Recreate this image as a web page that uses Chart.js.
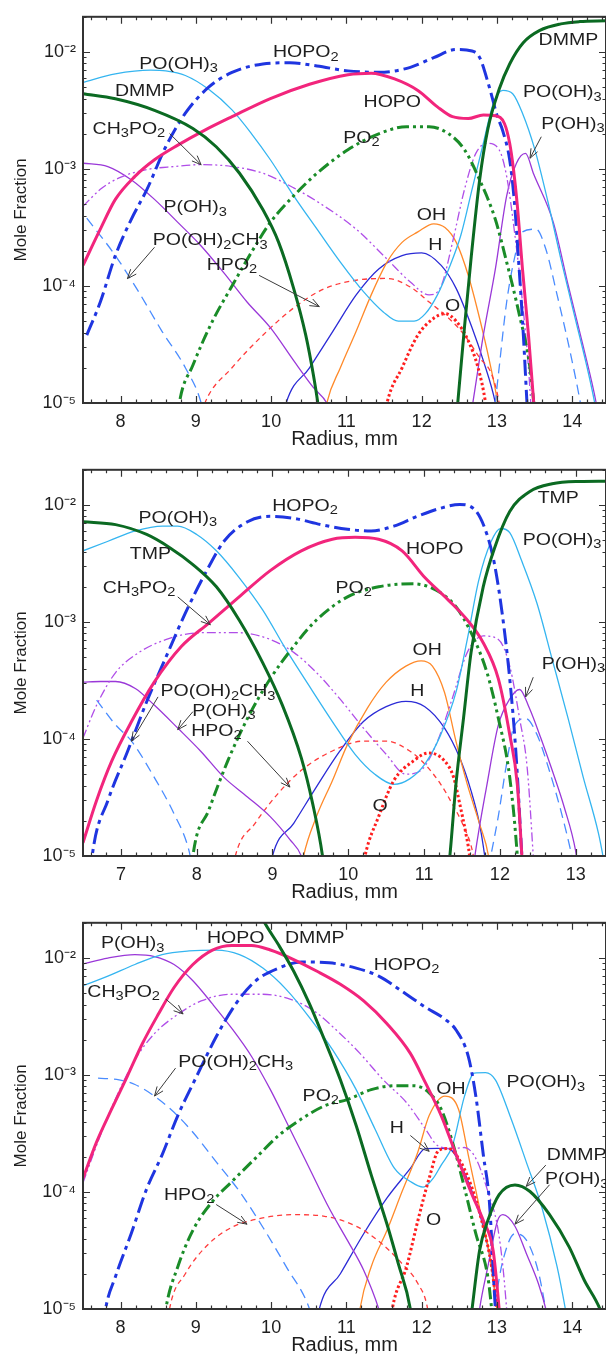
<!DOCTYPE html>
<html><head><meta charset="utf-8">
<script src="https://cdn.jsdelivr.net/npm/chart.js@4.4.1/dist/chart.umd.min.js"></script>
<style>
html,body{margin:0;padding:0;background:#fff;}
body{width:606px;height:1355px;overflow:hidden;position:relative;}
canvas{position:absolute;left:0;}
</style></head>
<body>
<canvas id="c1" width="606" height="452" style="top:-1px"></canvas>
<canvas id="c2" width="606" height="452" style="top:452px"></canvas>
<canvas id="c3" width="606" height="452" style="top:905px"></canvas>
<script>
// ---------------- DATA (radius mm, mole fraction) ----------------
// Panel 1 (DMMP flame)
const p1_DMMP = [[7.5,4.39e-3],[7.93,3.98e-3],[8.45,3.17e-3],[8.96,2.22e-3],[9.27,1.55e-3],[9.58,9.2e-4],[9.89,4.5e-4],[10.10,2.36e-4],[10.30,9.5e-5],[10.46,3.8e-5],[10.56,1.76e-5],[10.62,1e-5],[10.66,6e-6],[11.5,null],[12.45,6e-6],[12.48,1e-5],[12.57,4.5e-5],[12.66,1.8e-4],[12.77,8e-4],[12.88,2.2e-3],[13.03,4.8e-3],[13.17,7.9e-3],[13.35,1.2e-2],[13.57,1.53e-2],[13.85,1.74e-2],[14.1,1.82e-2],[14.45,1.85e-2]];
const p1_POOH3 = [[7.5,5.5e-3],[7.93,6.5e-3],[8.40,7.0e-3],[8.60,6.9e-3],[8.86,6.3e-3],[9.17,4.8e-3],[9.48,3.2e-3],[9.74,2.0e-3],[9.99,1.2e-3],[10.30,5.9e-4],[10.61,3.06e-4],[10.92,1.6e-4],[11.23,8.9e-5],[11.49,6.0e-5],[11.69,5.0e-5],[11.90,5.0e-5],[12.05,5.8e-5],[12.21,8.4e-5],[12.36,1.4e-4],[12.52,2.7e-4],[12.67,6.7e-4],[12.82,1.66e-3],[12.95,3.6e-3],[13.08,4.7e-3],[13.21,4.4e-3],[13.34,3.0e-3],[13.50,1.5e-3],[13.68,5.2e-4],[13.86,1.6e-4],[14.05,5e-5],[14.2,2e-5],[14.3,1e-5],[14.34,7e-6]];
const p1_HOPO = [[7.5,1.5e-4],[7.73,3.06e-4],[7.93,5.5e-4],[8.19,8.65e-4],[8.45,1.2e-3],[8.76,1.6e-3],[9.12,2.15e-3],[9.48,2.8e-3],[9.99,4.0e-3],[10.51,5.3e-3],[11.02,6.4e-3],[11.33,6.6e-3],[11.64,5.9e-3],[11.95,4.7e-3],[12.21,3.4e-3],[12.41,2.8e-3],[12.62,2.7e-3],[12.82,2.9e-3],[12.98,2.85e-3],[13.10,2.45e-3],[13.17,1.66e-3],[13.22,1.0e-3],[13.27,5.0e-4],[13.34,1.4e-4],[13.42,3.8e-5],[13.49,1e-5],[13.52,6e-6]];
const p1_HOPO2 = [[7.55,3.8e-5],[7.73,7.3e-5],[7.93,1.82e-4],[8.14,3.7e-4],[8.35,6.7e-4],[8.60,1.55e-3],[8.86,3.0e-3],[9.17,5.0e-3],[9.48,6.7e-3],[9.89,7.9e-3],[10.25,8.1e-3],[10.61,7.6e-3],[11.02,6.9e-3],[11.43,6.7e-3],[11.85,7.4e-3],[12.16,8.95e-3],[12.46,1.05e-2],[12.67,1.02e-2],[12.77,9.0e-3],[12.90,5e-3],[13.0,2.9e-3],[13.08,2.1e-3],[13.17,1.2e-3],[13.23,5.5e-4],[13.29,1.6e-4],[13.35,4e-5],[13.40,1e-5],[13.42,6e-6]];
const p1_PO2 = [[8.74,6e-6],[8.78,1e-5],[8.96,2.1e-5],[9.22,5e-5],[9.48,1.0e-4],[9.74,1.95e-4],[9.99,3.5e-4],[10.30,5.9e-4],[10.61,9.2e-4],[11.02,1.46e-3],[11.43,2.0e-3],[11.80,2.3e-3],[12.10,2.3e-3],[12.36,2.0e-3],[12.57,1.46e-3],[12.77,8.1e-4],[12.98,3.7e-4],[13.13,1.6e-4],[13.29,6e-5],[13.44,2e-5],[13.49,1e-5],[13.52,6e-6]];
const p1_CH3PO2 = [[7.5,4.8e-4],[7.73,6.7e-4],[7.98,8.4e-4],[8.35,9.9e-4],[8.71,1.05e-3],[9.07,1.09e-3],[9.48,1.05e-3],[9.89,9.2e-4],[10.30,6.9e-4],[10.71,4.8e-4],[11.13,3.06e-4],[11.54,1.7e-4],[11.85,1.08e-4],[12.10,8.4e-5],[12.26,1.0e-4],[12.41,2.36e-4],[12.57,6.7e-4],[12.72,1.36e-3],[12.88,1.66e-3],[13.03,1.46e-3],[13.13,8.65e-4],[13.24,2.7e-4],[13.34,7.3e-5],[13.42,2e-5],[13.45,1e-5],[13.47,6e-6]];
const p1_POH3 = [[7.5,1.12e-3],[7.83,1.05e-3],[8.14,8.1e-4],[8.45,5.5e-4],[8.76,3.5e-4],[9.07,2.2e-4],[9.37,1.3e-4],[9.68,7.3e-5],[9.99,4.4e-5],[10.30,2.3e-5],[10.56,1.36e-5],[10.74,1e-5],[10.8,8e-6],[11.8,null],[12.64,7e-6],[12.68,1e-5],[12.82,3.8e-5],[12.98,1.4e-4],[13.13,5.9e-4],[13.26,1.12e-3],[13.38,1.36e-3],[13.49,9e-4],[13.75,3.5e-4],[13.95,1.0e-4],[14.15,3e-5],[14.32,1e-5],[14.36,7e-6]];
const p1_POOH2CH3 = [[7.55,3.8e-4],[7.93,1.82e-4],[8.24,8.9e-5],[8.55,4.1e-5],[8.86,2e-5],[9.07,1e-5],[9.12,7e-6],[12.0,null],[12.96,7e-6],[12.98,1e-5],[13.03,2e-5],[13.13,7.3e-5],[13.24,1.8e-4],[13.34,2.9e-4],[13.52,3.06e-4],[13.65,2.07e-4],[13.80,8.4e-5],[13.96,3e-5],[14.11,1e-5],[14.15,7e-6]];
const p1_HPO2 = [[9.05,7e-6],[9.12,1e-5],[9.48,2e-5],[9.89,3.8e-5],[10.30,6.5e-5],[10.71,9.5e-5],[11.13,1.12e-4],[11.54,1.16e-4],[11.85,9.8e-5],[12.10,7.3e-5],[12.36,5.3e-5],[12.57,3.8e-5],[12.77,2.44e-5],[12.93,1.76e-5],[13.03,1e-5],[13.06,7e-6]];
const p1_OH = [[10.70,7e-6],[10.74,1e-5],[10.92,2e-5],[11.13,4.1e-5],[11.33,8.4e-5],[11.54,1.6e-4],[11.74,2.36e-4],[11.95,2.9e-4],[12.16,3.4e-4],[12.31,3.16e-4],[12.46,2.36e-4],[12.62,1.23e-4],[12.77,5.3e-5],[12.90,2.3e-5],[13.01,1e-5],[13.04,7e-6]];
const p1_H = [[10.15,7e-6],[10.20,1e-5],[10.51,2e-5],[10.82,4.1e-5],[11.13,8.4e-5],[11.43,1.4e-4],[11.74,1.82e-4],[12.0,1.92e-4],[12.26,1.5e-4],[12.46,9.5e-5],[12.67,4.4e-5],[12.82,2.3e-5],[12.98,1e-5],[13.02,7e-6]];
const p1_O = [[11.50,7e-6],[11.54,1e-5],[11.74,2e-5],[11.95,3.8e-5],[12.16,5.3e-5],[12.31,5.8e-5],[12.46,5.0e-5],[12.62,3.4e-5],[12.75,2e-5],[12.85,1e-5],[12.88,7e-6]];

// Panel 2 (TMP flame)
const p2_TMP = [[6.5,7.2e-3],[6.93,6.8e-3],[7.34,5.6e-3],[7.65,4.3e-3],[7.95,3.1e-3],[8.26,2.0e-3],[8.56,1.04e-3],[8.87,4.5e-4],[9.13,1.95e-4],[9.38,6.9e-5],[9.53,2.8e-5],[9.66,1e-5],[9.70,6e-6],[10.5,null],[11.30,6e-6],[11.34,1e-5],[11.42,4.1e-5],[11.52,1.5e-4],[11.62,5.5e-4],[11.78,2.0e-3],[11.93,4.3e-3],[12.13,8.8e-3],[12.39,1.3e-2],[12.69,1.52e-2],[13.05,1.59e-2],[13.40,1.6e-2]];
const p2_POOH3 = [[6.5,4.06e-3],[6.83,4.9e-3],[7.19,6.0e-3],[7.55,6.6e-3],[7.75,6.6e-3],[8.0,5.6e-3],[8.26,4.06e-3],[8.56,2.4e-3],[8.87,1.27e-3],[9.18,5.8e-4],[9.48,2.87e-4],[9.79,1.41e-4],[10.09,7.4e-5],[10.35,5.0e-5],[10.60,4.1e-5],[10.81,4.56e-5],[11.01,6.1e-5],[11.22,1.09e-4],[11.42,2.5e-4],[11.57,7.1e-4],[11.72,2.26e-3],[11.88,4.8e-3],[12.01,6.3e-3],[12.13,5.8e-3],[12.29,3.3e-3],[12.49,1.44e-3],[12.69,4.8e-4],[12.90,1.5e-4],[13.10,4.7e-5],[13.30,1.57e-5],[13.36,1e-5],[13.40,7e-6]];
const p2_HOPO = [[6.5,1.3e-5],[6.68,3.0e-5],[6.88,6.5e-5],[7.14,1.41e-4],[7.44,3.06e-4],[7.80,6.2e-4],[8.16,9.8e-4],[8.56,1.64e-3],[8.97,2.75e-3],[9.38,4.06e-3],[9.79,5.1e-3],[10.09,5.3e-3],[10.40,5.1e-3],[10.71,4.06e-3],[11.01,2.4e-3],[11.32,1.54e-3],[11.57,1.04e-3],[11.78,6.65e-4],[11.98,3.27e-4],[12.13,1.09e-4],[12.23,4.1e-5],[12.29,1e-5],[12.31,6e-6]];
const p2_HOPO2 = [[6.6,7e-6],[6.63,1.1e-5],[6.83,3e-5],[7.09,7.9e-5],[7.34,2.08e-4],[7.60,5.1e-4],[7.85,1.19e-3],[8.11,2.58e-3],[8.36,4.9e-3],[8.67,7.2e-3],[8.97,8.0e-3],[9.28,7.7e-3],[9.64,6.8e-3],[9.99,6.2e-3],[10.30,6.0e-3],[10.60,6.6e-3],[10.91,8.0e-3],[11.22,9.4e-3],[11.47,1.01e-2],[11.67,9.1e-3],[11.83,5.6e-3],[11.93,3.1e-3],[12.03,1.19e-3],[12.13,3.27e-4],[12.21,7.9e-5],[12.29,1e-5],[12.31,6e-6]];
const p2_PO2 = [[7.92,6e-6],[7.95,1e-5],[8.16,2.47e-5],[8.41,6.5e-5],[8.67,1.5e-4],[8.97,3.27e-4],[9.28,6.2e-4],[9.58,1.04e-3],[9.99,1.64e-3],[10.40,2.0e-3],[10.86,2.12e-3],[11.16,1.87e-3],[11.42,1.35e-3],[11.62,8.1e-4],[11.83,3.7e-4],[11.98,1.5e-4],[12.13,4.7e-5],[12.23,1e-5],[12.25,6e-6]];
const p2_CH3PO2 = [[6.5,1.02e-4],[6.68,1.95e-4],[6.93,3.7e-4],[7.24,5.5e-4],[7.60,7.1e-4],[8.05,8.1e-4],[8.56,8.1e-4],[8.97,7.1e-4],[9.28,5.5e-4],[9.58,3.7e-4],[9.89,2.2e-4],[10.20,1.24e-4],[10.50,7.4e-5],[10.76,5.0e-5],[10.96,5.4e-5],[11.16,9.0e-5],[11.37,2.2e-4],[11.57,5.5e-4],[11.78,7.6e-4],[11.98,7.1e-4],[12.13,4.2e-4],[12.26,1.5e-4],[12.36,5.7e-5],[12.44,1e-5],[12.46,6e-6]];
const p2_POH3 = [[6.5,3.06e-4],[6.73,3.1e-4],[6.93,3.1e-4],[7.19,2.7e-4],[7.44,1.95e-4],[7.75,1.24e-4],[8.05,7.9e-5],[8.36,4.7e-5],[8.67,3.2e-5],[8.97,2.17e-5],[9.23,1.38e-5],[9.38,1e-5],[9.42,8e-6],[10.5,null],[11.64,7e-6],[11.67,1e-5],[11.83,4.1e-5],[11.98,1.32e-4],[12.13,2.2e-4],[12.26,2.65e-4],[12.39,1.83e-4],[12.54,1.02e-4],[12.69,5.4e-5],[12.85,2.6e-5],[13.0,1.1e-5],[13.03,8e-6]];
const p2_POOH2CH3 = [[6.68,2.15e-4],[6.93,1.32e-4],[7.14,9.6e-5],[7.44,4.7e-5],[7.70,2.3e-5],[7.90,1.1e-5],[7.94,8e-6],[10.5,null],[11.85,8e-6],[11.88,1e-5],[11.98,2.2e-5],[12.08,5.7e-5],[12.18,1.24e-4],[12.34,1.5e-4],[12.49,1.09e-4],[12.64,5.7e-5],[12.80,2.5e-5],[12.95,1e-5],[12.98,8e-6]];
const p2_HPO2 = [[8.47,7e-6],[8.51,1e-5],[8.77,1.9e-5],[9.07,3.4e-5],[9.38,5.4e-5],[9.79,7.9e-5],[10.20,9.6e-5],[10.50,9.6e-5],[10.81,7.9e-5],[11.01,6.1e-5],[11.22,4.1e-5],[11.37,2.8e-5],[11.52,1.8e-5],[11.65,1e-5],[11.68,7e-6]];
const p2_OH = [[9.37,7e-6],[9.41,1e-5],[9.58,2.17e-5],[9.79,4.4e-5],[9.99,9.0e-5],[10.25,1.83e-4],[10.50,3.06e-4],[10.76,4.2e-4],[10.96,4.66e-4],[11.11,4.2e-4],[11.27,2.5e-4],[11.42,9.6e-5],[11.57,4.1e-5],[11.73,1.9e-5],[11.85,1e-5],[11.88,7e-6]];
const p2_H = [[8.96,7e-6],[9.0,1e-5],[9.28,1.9e-5],[9.58,3.9e-5],[9.89,7.9e-5],[10.20,1.41e-4],[10.50,1.89e-4],[10.76,2.1e-4],[11.01,1.89e-4],[11.27,1.24e-4],[11.47,6.9e-5],[11.62,3.6e-5],[11.73,1.9e-5],[11.80,1e-5],[11.83,7e-6]];
const p2_O = [[10.18,7e-6],[10.22,1e-5],[10.40,2.17e-5],[10.60,4.4e-5],[10.86,6.5e-5],[11.06,7.6e-5],[11.27,6.5e-5],[11.39,4.7e-5],[11.47,2.8e-5],[11.55,1.57e-5],[11.60,1e-5],[11.62,7e-6]];

// Panel 3 (DMMP flame, second condition)
const p3_DMMP = [[9.80,2.8e-2],[9.92,1.97e-2],[10.10,1.29e-2],[10.30,7.7e-3],[10.51,4.05e-3],[10.71,1.99e-3],[10.92,9.1e-4],[11.13,3.7e-4],[11.33,1.4e-4],[11.54,5.3e-5],[11.69,2.44e-5],[11.85,1e-5],[11.88,7e-6],[12.3,null],[12.64,7e-6],[12.67,1e-5],[12.77,3.16e-5],[12.88,5.7e-5],[13.03,9.5e-5],[13.24,1.15e-4],[13.44,1.01e-4],[13.70,6.4e-5],[13.96,3.4e-5],[14.16,1.77e-5],[14.37,1e-5],[14.42,8e-6]];
const p3_POH3 = [[7.5,8.9e-3],[7.83,1.0e-2],[8.19,1.07e-2],[8.45,1.03e-2],[8.71,8.8e-3],[8.96,6.4e-3],[9.22,4.05e-3],[9.48,2.49e-3],[9.74,1.44e-3],[9.99,7.5e-4],[10.25,3.46e-4],[10.51,1.59e-4],[10.77,7.3e-5],[11.02,3.8e-5],[11.23,2.14e-5],[11.43,1e-5],[11.47,8e-6],[12.2,null],[12.74,7e-6],[12.77,1e-5],[12.88,2.3e-5],[13.01,5.7e-5],[13.08,6.4e-5],[13.24,5.1e-5],[13.39,3.0e-5],[13.55,1.66e-5],[13.65,1e-5],[13.68,8e-6]];
const p3_POOH3 = [[7.5,5.8e-3],[7.83,7.0e-3],[8.19,8.8e-3],[8.55,1.07e-2],[8.91,1.15e-2],[9.27,1.17e-2],[9.58,1.07e-2],[9.89,8.2e-3],[10.20,5.4e-3],[10.51,3.1e-3],[10.82,1.63e-3],[11.13,7.5e-4],[11.38,3.46e-4],[11.64,1.59e-4],[11.85,1.23e-4],[12.02,1.1e-4],[12.15,1.3e-4],[12.26,1.7e-4],[12.41,2.5e-4],[12.57,6.6e-4],[12.70,1.04e-3],[12.85,1.05e-3],[12.98,9.1e-4],[13.19,4.2e-4],[13.39,1.81e-4],[13.60,7.3e-5],[13.80,2.3e-5],[13.91,1e-5],[13.95,7e-6]];
const p3_HOPO = [[7.5,1.31e-4],[7.68,2.67e-4],[7.88,5.1e-4],[8.09,9.8e-4],[8.29,1.86e-3],[8.50,3.3e-3],[8.71,5.6e-3],[8.96,8.8e-3],[9.22,1.17e-2],[9.48,1.28e-2],[9.74,1.28e-2],[9.99,1.17e-2],[10.30,9.7e-3],[10.61,7.7e-3],[10.92,5.96e-3],[11.23,4.3e-3],[11.54,2.74e-3],[11.85,1.53e-3],[12.05,8.6e-4],[12.26,4.5e-4],[12.46,2.07e-4],[12.67,9.5e-5],[12.82,5.7e-5],[12.95,3.16e-5],[13.03,1e-5],[13.05,7e-6]];
const p3_HOPO2 = [[7.77,7e-6],[7.80,1e-5],[7.93,1.88e-5],[8.14,4.4e-5],[8.35,1.08e-4],[8.55,2.07e-4],[8.76,4.5e-4],[9.01,9.75e-4],[9.27,2.12e-3],[9.53,4.05e-3],[9.79,6.35e-3],[10.10,8.2e-3],[10.40,9.25e-3],[10.77,9.1e-3],[11.13,8.2e-3],[11.43,7.0e-3],[11.74,5.2e-3],[12.05,3.8e-3],[12.31,3.0e-3],[12.46,2.41e-3],[12.62,1.44e-3],[12.72,6.6e-4],[12.82,2.07e-4],[12.90,8.3e-5],[12.98,1e-5],[13.0,7e-6]];
const p3_PO2 = [[8.57,7e-6],[8.60,1e-5],[8.76,2.3e-5],[8.96,4.7e-5],[9.22,8.3e-5],[9.48,1.23e-4],[9.79,1.94e-4],[10.10,3.04e-4],[10.40,4.2e-4],[10.71,5.45e-4],[11.02,6.2e-4],[11.33,7.5e-4],[11.64,8.1e-4],[11.90,8.1e-4],[12.10,7.05e-4],[12.26,5.1e-4],[12.41,2.67e-4],[12.57,1.08e-4],[12.72,4.4e-5],[12.88,1.88e-5],[12.93,1e-5],[12.95,7e-6]];
const p3_CH3PO2 = [[7.5,1.2e-4],[7.73,3.04e-4],[7.93,6.2e-4],[8.19,1.35e-3],[8.45,2.26e-3],[8.76,3.3e-3],[9.07,4.3e-3],[9.48,4.9e-3],[9.89,4.9e-3],[10.25,4.46e-3],[10.56,3.56e-3],[10.87,2.41e-3],[11.18,1.53e-3],[11.49,9.1e-4],[11.80,5.8e-4],[12.05,3.46e-4],[12.21,2.5e-4],[12.41,2.35e-4],[12.57,2.4e-4],[12.72,1.94e-4],[12.88,1.01e-4],[13.01,5e-5],[13.08,2.3e-5],[13.13,1e-5],[13.15,7e-6]];
const p3_POOH2CH3 = [[7.70,9.4e-4],[7.98,9.1e-4],[8.19,8.3e-4],[8.45,6.6e-4],[8.71,4.8e-4],[8.96,3.24e-4],[9.27,1.81e-4],[9.58,1.01e-4],[9.89,5e-5],[10.20,2.3e-5],[10.51,1e-5],[10.55,8e-6],[12.0,null],[12.93,8e-6],[12.96,1e-5],[13.08,2.6e-5],[13.24,4.4e-5],[13.39,3.9e-5],[13.55,2.1e-5],[13.65,1e-5],[13.68,8e-6]];
const p3_HPO2 = [[8.62,7e-6],[8.65,1e-5],[8.86,2.0e-5],[9.17,3.6e-5],[9.48,5e-5],[9.89,6.0e-5],[10.30,6.4e-5],[10.71,6.2e-5],[11.13,5.1e-5],[11.43,3.8e-5],[11.74,2.44e-5],[11.95,1.65e-5],[12.08,1e-5],[12.11,7e-6]];
const p3_OH = [[11.15,7e-6],[11.18,1e-5],[11.33,2.3e-5],[11.54,4.7e-5],[11.74,1.01e-4],[11.95,2.2e-4],[12.10,4.5e-4],[12.31,6.6e-4],[12.49,5.1e-4],[12.62,2.07e-4],[12.77,7.3e-5],[12.90,3e-5],[13.0,1e-5],[13.03,7e-6]];
const p3_H = [[10.60,7e-6],[10.64,1e-5],[10.92,2e-5],[11.23,4.4e-5],[11.54,8.9e-5],[11.85,1.59e-4],[12.05,2.35e-4],[12.21,2.36e-4],[12.36,2.35e-4],[12.52,1.7e-4],[12.67,1.01e-4],[12.82,5e-5],[12.93,2.3e-5],[13.0,1e-5],[13.03,7e-6]];
const p3_O = [[11.58,7e-6],[11.61,1e-5],[11.80,2.3e-5],[11.95,5.7e-5],[12.10,1.31e-4],[12.23,2.28e-4],[12.36,2.35e-4],[12.52,1.8e-4],[12.67,1.08e-4],[12.82,5e-5],[12.93,2.3e-5],[13.0,1e-5],[13.03,7e-6]];

// axis ranges & tick labels
const xRanges = [[7.5,14.45],[6.5,13.40],[7.5,14.45]];
const yRange = [1e-5, 2e-2];
const xTitle = 'Radius, mm';
const yTitle = 'Mole Fraction';

// species annotation labels: [text, radius, log10(mole fraction)]  ("_" = subscript)
const p1Labels = [['PO(OH)_3',8.77,-2.104],['HOPO_2',10.46,-2.006],['DMMP',8.32,-2.338],['CH_3PO_2',8.11,-2.663],['P(OH)_3',8.99,-3.331],['PO(OH)_2CH_3',9.19,-3.613],['HPO_2',9.48,-3.824],['HOPO',11.61,-2.429],['PO_2',11.20,-2.739],['OH',12.13,-3.401],['H',12.18,-3.655],['O',12.41,-4.176],['DMMP',13.95,-1.90],['PO(OH)_3',13.87,-2.349],['P(OH)_3',14.01,-2.62]];
const p1Arrows = [[8.65,-2.696,9.07,-2.964],[8.45,-3.669,8.09,-3.937],[9.84,-3.909,10.64,-4.176],[13.59,-2.724,13.44,-2.908]];
const p2Labels = [['PO(OH)_3',7.75,-2.112],['HOPO_2',9.43,-2.014],['TMP',7.39,-2.42],['CH_3PO_2',7.24,-2.715],['PO(OH)_2CH_3',8.28,-3.598],['P(OH)_3',8.36,-3.766],['HPO_2',8.26,-3.934],['HOPO',11.14,-2.378],['PO_2',10.07,-2.715],['OH',11.04,-3.248],['H',10.91,-3.598],['O',10.42,-4.579],['TMP',12.77,-1.944],['PO(OH)_3',12.82,-2.303],['P(OH)_3',12.97,-3.36]];
const p2Arrows = [[7.75,-2.785,8.18,-3.023],[7.49,-3.64,7.14,-4.019],[7.95,-3.766,7.75,-3.92],[8.67,-4.019,9.23,-4.411],[12.44,-3.472,12.34,-3.64]];
const p3Labels = [['P(OH)_3',8.16,-1.879],['HOPO',9.53,-1.831],['DMMP',10.58,-1.831],['HOPO_2',11.80,-2.062],['CH_3PO_2',8.04,-2.295],['PO(OH)_2CH_3',9.53,-2.893],['PO_2',10.66,-3.185],['OH',12.39,-3.124],['H',11.67,-3.461],['O',12.16,-4.247],['PO(OH)_3',13.65,-3.067],['DMMP',14.06,-3.685],['P(OH)_3',14.06,-3.896],['HPO_2',8.91,-4.028]];
const p3Arrows = [[8.60,-2.351,8.83,-2.478],[8.73,-2.941,8.45,-3.18],[11.85,-3.517,12.10,-3.652],[13.65,-3.77,13.39,-3.952],[13.70,-3.938,13.24,-4.275],[9.27,-4.107,9.68,-4.275]];

// ---------------- STYLES ----------------
const STY = {
  fuel:   {c:'#0b6a22', w:3,   d:[]},
  HOPO:   {c:'#f2257c', w:3,   d:[]},
  HOPO2:  {c:'#1f35e0', w:3,   d:[16,5,4,5]},
  PO2:    {c:'#1a8c28', w:3,   d:[12,4,3,4,3,4]},
  O:      {c:'#ff1e1e', w:3,   d:[2.5,2.5]},
  POOH3:  {c:'#35b5f0', w:1.3, d:[]},
  CH3PO2: {c:'#b04ee8', w:1.3, d:[9,3,2,3,2,3]},
  POH3:   {c:'#9a38d8', w:1.3, d:[]},
  POOH2CH3:{c:'#4a8cff', w:1.3, d:[10,6]},
  HPO2:   {c:'#ff3b3b', w:1.3, d:[5,4]},
  OH:     {c:'#ff8a2a', w:1.3, d:[]},
  H:      {c:'#2b2bd6', w:1.3, d:[]}
};
const FONT = '"Liberation Sans", Arial, Helvetica, sans-serif';
const SX = 1.22;

const SUP = {'-':'\u207B','0':'\u2070','1':'\u00B9','2':'\u00B2','3':'\u00B3','4':'\u2074','5':'\u2075','6':'\u2076','7':'\u2077','8':'\u2078','9':'\u2079'};
function sup(n){return String(n).split('').map(c=>SUP[c]).join('');}

function drawRich(ctx, s, cx, cy){
  const parts=[];
  for(let k=0;k<s.length;k++){
    if(s[k]==='_'){parts.push({t:s[k+1],sub:true});k++;}
    else if(parts.length && !parts[parts.length-1].sub) parts[parts.length-1].t+=s[k];
    else parts.push({t:s[k],sub:false});
  }
  const MAIN='16px '+FONT, SUBF='12px '+FONT;
  let w=0;
  parts.forEach(p=>{ctx.font=p.sub?SUBF:MAIN; p.w=ctx.measureText(p.t).width; w+=p.w;});
  ctx.save(); ctx.translate(cx,cy); ctx.scale(SX,1);
  ctx.textBaseline='middle'; ctx.textAlign='left'; ctx.fillStyle='#1e1e1e';
  let x=-w/2;
  parts.forEach(p=>{ctx.font=p.sub?SUBF:MAIN; ctx.fillText(p.t,x,p.sub?4.5:0); x+=p.w;});
  ctx.restore();
}
function arrow(ctx,x1,y1,x2,y2){
  const a=Math.atan2(y2-y1,x2-x1), L=10, h=0.38;
  ctx.beginPath(); ctx.moveTo(x1,y1); ctx.lineTo(x2,y2);
  ctx.moveTo(x2-L*Math.cos(a-h), y2-L*Math.sin(a-h)); ctx.lineTo(x2,y2);
  ctx.lineTo(x2-L*Math.cos(a+h), y2-L*Math.sin(a+h));
  ctx.stroke();
}

const decor = {
  id:'decor',
  afterDatasetsDraw(chart, args, opts){
    const ctx=chart.ctx, a=chart.chartArea, xs=chart.scales.x, ys=chart.scales.y;
    ctx.save();
    ctx.setLineDash([]);
    ctx.strokeStyle='#333'; ctx.lineWidth=1.2;
    ctx.beginPath();
    const i0=Math.ceil(xs.min*5-1e-9), i1=Math.floor(xs.max*5+1e-9);
    for(let i=i0;i<=i1;i++){
      const px=Math.round(xs.getPixelForValue(i/5))+0.5, L=(i%5===0)?7:3.5;
      ctx.moveTo(px,a.bottom); ctx.lineTo(px,a.bottom-L);
      ctx.moveTo(px,a.top); ctx.lineTo(px,a.top+L);
    }
    for(let e=-6;e<=-1;e++) for(let m=1;m<=9;m++){
      const v=m*Math.pow(10,e);
      if(v<ys.min*0.999||v>ys.max*1.001) continue;
      const py=Math.round(ys.getPixelForValue(v))+0.5, L=(m===1)?7:3.5;
      ctx.moveTo(a.left,py); ctx.lineTo(a.left+L,py);
      ctx.moveTo(a.right,py); ctx.lineTo(a.right-L,py);
    }
    ctx.stroke();
    ctx.lineWidth=2; ctx.strokeStyle='#333';
    ctx.strokeRect(a.left,a.top,a.right-a.left,a.bottom-a.top);
    ctx.strokeStyle='#3a3a3a'; ctx.lineWidth=1;
    (opts.arrows||[]).forEach(r=>arrow(ctx, xs.getPixelForValue(r[0]), ys.getPixelForValue(Math.pow(10,r[1])), xs.getPixelForValue(r[2]), ys.getPixelForValue(Math.pow(10,r[3]))));
    (opts.labels||[]).forEach(l=>drawRich(ctx,l[0], xs.getPixelForValue(l[1]), ys.getPixelForValue(Math.pow(10,l[2]))));
    ctx.restore();
  }
};

function ds(arr, key){
  const s=STY[key];
  return {data:arr.map(p=>({x:p[0],y:p[1]})), borderColor:s.c, borderWidth:s.w, borderDash:s.d,
    pointRadius:0, fill:false, cubicInterpolationMode:'monotone', spanGaps:false, clip:0,
    borderJoinStyle:'round', borderCapStyle:'butt'};
}

function makeChart(id, xr, series, labels, arrows){
  return new Chart(document.getElementById(id), {
    type:'line',
    data:{datasets:series.map(s=>ds(s[0],s[1]))},
    options:{
      responsive:false, animation:false, devicePixelRatio:1,
      layout:{padding:{top:13,left:0,right:0,bottom:0}},
      plugins:{legend:{display:false}, tooltip:{enabled:false}, decor:{labels, arrows}},
      scales:{
        x:{type:'linear', min:xr[0], max:xr[1],
           grid:{display:false, drawTicks:false}, border:{display:false},
           ticks:{stepSize:1, includeBounds:false, autoSkip:false, padding:8, color:'#1e1e1e', font:{family:FONT,size:18},
                  callback:v=>Number.isInteger(v)?String(v):''},
           title:{display:true, text:xTitle, color:'#1e1e1e', font:{family:FONT,size:20}, padding:{top:0,bottom:0}},
           afterFit:sc=>{sc.height=48;}},
        y:{type:'logarithmic', min:yRange[0], max:yRange[1],
           grid:{display:false, drawTicks:false}, border:{display:false},
           ticks:{autoSkip:false, padding:7, color:'#1e1e1e', font:{family:FONT,size:18},
                  callback:v=>{const l=Math.log10(v), r=Math.round(l); return Math.abs(l-r)<1e-6 ? '10'+sup(r) : '';}},
           title:{display:true, text:yTitle, color:'#1e1e1e', font:{family:FONT,size:17}, padding:{top:11,bottom:0}},
           afterFit:sc=>{sc.width=83;}}
      }
    },
    plugins:[decor]
  });
}

makeChart('c1', xRanges[0], [[p1_DMMP,'fuel'],[p1_HOPO,'HOPO'],[p1_HOPO2,'HOPO2'],[p1_PO2,'PO2'],[p1_O,'O'],[p1_POOH3,'POOH3'],[p1_CH3PO2,'CH3PO2'],[p1_POH3,'POH3'],[p1_POOH2CH3,'POOH2CH3'],[p1_HPO2,'HPO2'],[p1_OH,'OH'],[p1_H,'H']], p1Labels, p1Arrows);
makeChart('c2', xRanges[1], [[p2_TMP,'fuel'],[p2_HOPO,'HOPO'],[p2_HOPO2,'HOPO2'],[p2_PO2,'PO2'],[p2_O,'O'],[p2_POOH3,'POOH3'],[p2_CH3PO2,'CH3PO2'],[p2_POH3,'POH3'],[p2_POOH2CH3,'POOH2CH3'],[p2_HPO2,'HPO2'],[p2_OH,'OH'],[p2_H,'H']], p2Labels, p2Arrows);
makeChart('c3', xRanges[2], [[p3_DMMP,'fuel'],[p3_HOPO,'HOPO'],[p3_HOPO2,'HOPO2'],[p3_PO2,'PO2'],[p3_O,'O'],[p3_POOH3,'POOH3'],[p3_CH3PO2,'CH3PO2'],[p3_POH3,'POH3'],[p3_POOH2CH3,'POOH2CH3'],[p3_HPO2,'HPO2'],[p3_OH,'OH'],[p3_H,'H']], p3Labels, p3Arrows);
</script>
</body></html>
